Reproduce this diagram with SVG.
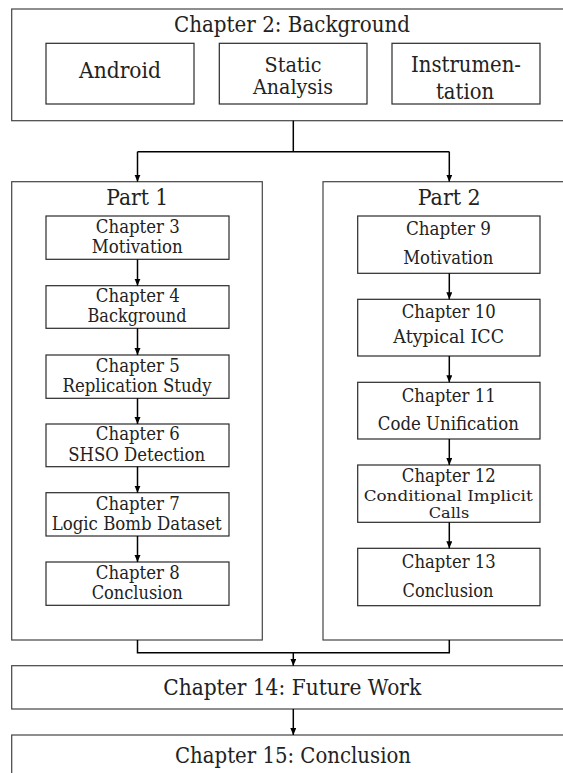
<svg xmlns="http://www.w3.org/2000/svg" width="563" height="773" viewBox="0 0 563 773">
  <style>
    .frame { fill: #fff; stroke: #444; stroke-width: 1.2; }
    .box { fill: #fff; stroke: #2a2a2a; stroke-width: 1.2; }
    text { fill: #222; text-anchor: middle; font-family: "DejaVu Serif", "Liberation Serif", serif; }
    .big { font-size: 22px; }
    .mid { font-size: 20px; }
    .small { font-size: 19px; }
    .tight { font-size: 15.5px; }
    .link { fill: none; stroke: #000; stroke-width: 1.5; }
  </style>
  <defs>
    <marker id="arrow" markerUnits="userSpaceOnUse" markerWidth="8" markerHeight="8" refX="7" refY="3" orient="auto">
      <path d="M0,0 L7,3 L0,6 Z" fill="#000"/>
    </marker>
  </defs>
  <rect width="563" height="773" fill="#fff"/>

  <!-- Chapter 2 -->
  <g id="ch2">
    <rect class="frame" x="11.7" y="9" width="570" height="111.7"/>
    <text class="big" x="292" y="32.3" textLength="236" lengthAdjust="spacingAndGlyphs">Chapter 2: Background</text>
  </g>
  <g id="android">
    <rect class="box" x="46" y="43.3" width="148" height="60.7"/>
    <text class="big" x="120" y="78" textLength="82" lengthAdjust="spacingAndGlyphs">Android</text>
  </g>
  <g id="static-analysis">
    <rect class="box" x="219.3" y="43.3" width="147.7" height="60.7"/>
    <text class="mid" x="293" y="71.7" textLength="57" lengthAdjust="spacingAndGlyphs">Static</text>
    <text class="mid" x="293" y="94" textLength="80" lengthAdjust="spacingAndGlyphs">Analysis</text>
  </g>
  <g id="instrumentation">
    <rect class="box" x="392" y="43.3" width="148" height="60.7"/>
    <text class="big" x="466" y="71.7" textLength="110" lengthAdjust="spacingAndGlyphs">Instrumen-</text>
    <text class="big" x="465" y="99" textLength="58" lengthAdjust="spacingAndGlyphs">tation</text>
  </g>

  <!-- Part 1 -->
  <g id="part1">
    <rect class="frame" x="11.7" y="181.7" width="250.6" height="458.3"/>
    <text class="big" x="137.2" y="205" textLength="62" lengthAdjust="spacingAndGlyphs">Part 1</text>
  </g>
  <g id="ch3">
    <rect class="box" x="46" y="216" width="183" height="43.3"/>
    <text class="small" x="137.8" y="233.3" textLength="84" lengthAdjust="spacingAndGlyphs">Chapter 3</text>
    <text class="small" x="137.2" y="253.3" textLength="91" lengthAdjust="spacingAndGlyphs">Motivation</text>
  </g>
  <g id="ch4">
    <rect class="box" x="46" y="285.7" width="183" height="42.6"/>
    <text class="small" x="137.8" y="302.3" textLength="84" lengthAdjust="spacingAndGlyphs">Chapter 4</text>
    <text class="small" x="137" y="322.3" textLength="99" lengthAdjust="spacingAndGlyphs">Background</text>
  </g>
  <g id="ch5">
    <rect class="box" x="46" y="355" width="183" height="43.3"/>
    <text class="small" x="137.8" y="371.7" textLength="84" lengthAdjust="spacingAndGlyphs">Chapter 5</text>
    <text class="small" x="137" y="391.7" textLength="149" lengthAdjust="spacingAndGlyphs">Replication Study</text>
  </g>
  <g id="ch6">
    <rect class="box" x="46" y="424" width="183" height="42.7"/>
    <text class="small" x="137.8" y="440" textLength="84" lengthAdjust="spacingAndGlyphs">Chapter 6</text>
    <text class="small" x="136.7" y="460.7" textLength="137" lengthAdjust="spacingAndGlyphs">SHSO Detection</text>
  </g>
  <g id="ch7">
    <rect class="box" x="46" y="492.7" width="183" height="43.3"/>
    <text class="small" x="137.8" y="510" textLength="84" lengthAdjust="spacingAndGlyphs">Chapter 7</text>
    <text class="small" x="136.7" y="530" textLength="170" lengthAdjust="spacingAndGlyphs">Logic Bomb Dataset</text>
  </g>
  <g id="ch8">
    <rect class="box" x="46" y="562" width="183" height="43.3"/>
    <text class="small" x="137.8" y="579.3" textLength="84" lengthAdjust="spacingAndGlyphs">Chapter 8</text>
    <text class="small" x="137.2" y="599.3" textLength="91" lengthAdjust="spacingAndGlyphs">Conclusion</text>
  </g>

  <!-- Part 2 -->
  <g id="part2">
    <rect class="frame" x="323" y="181.7" width="260" height="458.3"/>
    <text class="big" x="449.2" y="205" textLength="63" lengthAdjust="spacingAndGlyphs">Part 2</text>
  </g>
  <g id="ch9">
    <rect class="box" x="357.7" y="216" width="182.3" height="57.3"/>
    <text class="small" x="448.4" y="235" textLength="85" lengthAdjust="spacingAndGlyphs">Chapter 9</text>
    <text class="small" x="448.3" y="264.3" textLength="90" lengthAdjust="spacingAndGlyphs">Motivation</text>
  </g>
  <g id="ch10">
    <rect class="box" x="357.7" y="299.3" width="182.3" height="56.7"/>
    <text class="small" x="448.7" y="318.3" textLength="94" lengthAdjust="spacingAndGlyphs">Chapter 10</text>
    <text class="small" x="448.7" y="343.3" textLength="110.7" lengthAdjust="spacingAndGlyphs">Atypical ICC</text>
  </g>
  <g id="ch11">
    <rect class="box" x="357.7" y="382.3" width="182.3" height="56.7"/>
    <text class="small" x="448.7" y="401.7" textLength="94" lengthAdjust="spacingAndGlyphs">Chapter 11</text>
    <text class="small" x="448.3" y="430" textLength="141" lengthAdjust="spacingAndGlyphs">Code Unification</text>
  </g>
  <g id="ch12">
    <rect class="box" x="357.7" y="465" width="182.3" height="57.3"/>
    <text class="small" x="448.8" y="481.7" textLength="94" lengthAdjust="spacingAndGlyphs">Chapter 12</text>
    <text class="tight" x="448.2" y="501" textLength="169" lengthAdjust="spacingAndGlyphs">Conditional Implicit</text>
    <text class="tight" x="449" y="518.3" textLength="40.6" lengthAdjust="spacingAndGlyphs">Calls</text>
  </g>
  <g id="ch13">
    <rect class="box" x="357.7" y="548.3" width="182.3" height="57.4"/>
    <text class="small" x="448.8" y="568.3" textLength="94" lengthAdjust="spacingAndGlyphs">Chapter 13</text>
    <text class="small" x="448" y="596.7" textLength="91" lengthAdjust="spacingAndGlyphs">Conclusion</text>
  </g>

  <!-- Closing chapters -->
  <g id="ch14">
    <rect class="frame" x="11.7" y="665.7" width="570" height="43.3"/>
    <text class="big" x="292.2" y="695" textLength="258" lengthAdjust="spacingAndGlyphs">Chapter 14: Future Work</text>
  </g>
  <g id="ch15">
    <rect class="frame" x="11.7" y="735" width="570" height="60"/>
    <text class="big" x="293" y="763.3" textLength="236" lengthAdjust="spacingAndGlyphs">Chapter 15: Conclusion</text>
  </g>

  <!-- Connectors -->
  <g id="connectors">
    <path class="link" d="M293.3,120.7 V151.7"/>
    <path class="link" d="M137.5,151.7 H449.3"/>
    <path class="link" d="M137.5,151.7 V181.7" marker-end="url(#arrow)"/>
    <path class="link" d="M449.3,151.7 V181.7" marker-end="url(#arrow)"/>

    <path class="link" d="M137.5,259.3 V285.7" marker-end="url(#arrow)"/>
    <path class="link" d="M137.5,328.3 V355" marker-end="url(#arrow)"/>
    <path class="link" d="M137.5,398.3 V424" marker-end="url(#arrow)"/>
    <path class="link" d="M137.5,466.7 V492.7" marker-end="url(#arrow)"/>
    <path class="link" d="M137.5,536 V562" marker-end="url(#arrow)"/>

    <path class="link" d="M449.3,273.3 V299.3" marker-end="url(#arrow)"/>
    <path class="link" d="M449.3,356 V382.3" marker-end="url(#arrow)"/>
    <path class="link" d="M449.3,439 V465" marker-end="url(#arrow)"/>
    <path class="link" d="M449.3,522.3 V548.3" marker-end="url(#arrow)"/>

    <path class="link" d="M137.5,640 V652.7 H449.3 V640"/>
    <path class="link" d="M293.3,652.7 V665.7" marker-end="url(#arrow)"/>
    <path class="link" d="M293.3,709 V735" marker-end="url(#arrow)"/>
  </g>
</svg>
